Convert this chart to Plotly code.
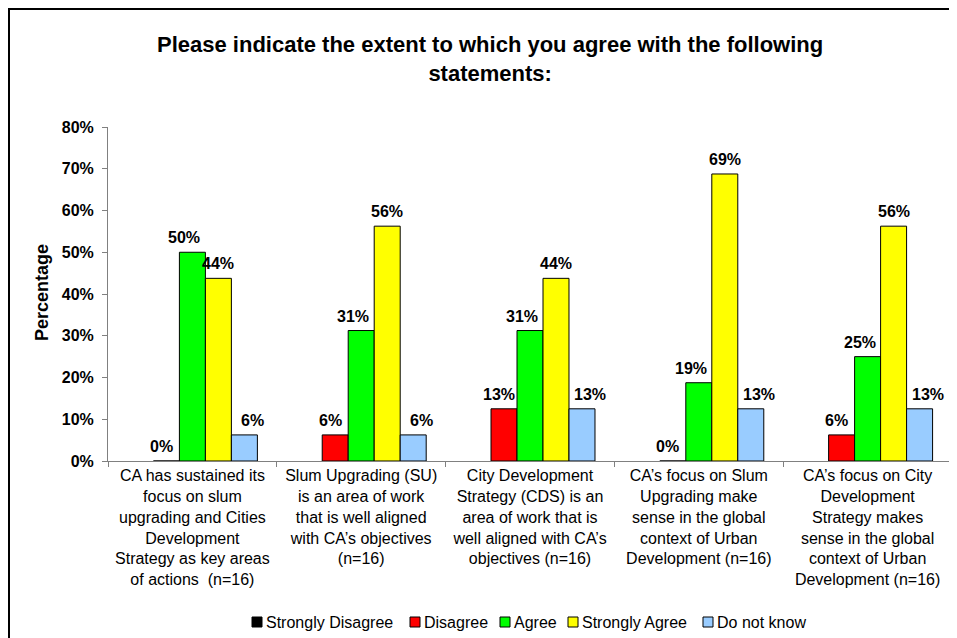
import plotly.graph_objects as go

# survey of 16 respondents, shares per statement
statements = [
    "CA has sustained its<br>focus on slum<br>upgrading and Cities<br>Development<br>Strategy as key areas<br>of actions  (n=16)",
    "Slum Upgrading (SU)<br>is an area of work<br>that is well aligned<br>with CA\u2019s objectives<br>(n=16)",
    "City Development<br>Strategy (CDS) is an<br>area of work that is<br>well aligned with CA\u2019s<br>objectives (n=16)",
    "CA\u2019s focus on Slum<br>Upgrading make<br>sense in the global<br>context of Urban<br>Development (n=16)",
    "CA\u2019s focus on City<br>Development<br>Strategy makes<br>sense in the global<br>context of Urban<br>Development (n=16)",
]

strongly_disagree = [None, None, None, None, None]
disagree = [0.0, 0.0625, 0.125, 0.0, 0.0625]
agree = [0.5, 0.3125, 0.3125, 0.1875, 0.25]
strongly_agree = [0.4375, 0.5625, 0.4375, 0.6875, 0.5625]
do_not_know = [0.0625, 0.0625, 0.125, 0.125, 0.125]

series_names = ["Strongly Disagree", "Disagree", "Agree", "Strongly Agree", "Do not know"]
series_values = [strongly_disagree, disagree, agree, strongly_agree, do_not_know]
series_colors = ["#000000", "#ff0000", "#00ff00", "#ffff00", "#99ccff"]

FONT = "Arial, Liberation Sans, sans-serif"

# figure geometry (page body adds 8px around the plot div)
W, H = 957, 638
ML, MR, MT, MB = 100, 13, 119, 185
PW, PH = W - ML - MR, H - MT - MB
BARGAP = 0.23
SLOT = PW / len(statements) * (1 - BARGAP) / len(series_names)
# labels in the original are nudged sideways a bit so they don't crowd
LABEL_NUDGE = [0, -5, -8, 0, 8]


def fx(px):
    return (px - ML) / PW


def fy(py):
    return (H - MB - py) / PH


fig = go.Figure()
annotations = []
for i, (name, vals, col) in enumerate(zip(series_names, series_values, series_colors)):
    fig.add_trace(go.Bar(
        name=name,
        x=statements,
        y=vals,
        marker=dict(color=col, line=dict(color="black", width=1)),
        showlegend=False,
    ))
    for cat, v in zip(statements, vals):
        if v is None:
            continue
        annotations.append(dict(
            x=cat, y=v, xref="x", yref="y",
            text=f"{int(v * 100 + 0.5)}%",
            xshift=(i - 2) * SLOT + LABEL_NUDGE[i], yshift=4,
            xanchor="center", yanchor="bottom", showarrow=False,
            font=dict(size=16, weight="bold"),
        ))

# hand-made legend: small outlined squares followed by the names
legend_x = [244, 402, 492, 560, 695]
legend_y = 614
shapes = [
    dict(type="rect", xref="paper", yref="paper",
         x0=fx(1), x1=fx(W + 20), y0=fy(H + 20), y1=fy(1),
         line=dict(color="black", width=2), layer="below"),
]
annotations += [
    dict(
        text="Please indicate the extent to which you agree with the following<br>statements:",
        xref="paper", yref="paper", x=fx(482), y=fy(51),
        xanchor="center", yanchor="middle", showarrow=False,
        font=dict(size=22, weight="bold"),
    ),
    dict(
        text="Percentage",
        xref="paper", yref="paper", x=fx(34), y=fy(285),
        xanchor="center", yanchor="middle", textangle=-90, showarrow=False,
        font=dict(size=18, weight="bold"),
    ),
]
for lx, name, col in zip(legend_x, series_names, series_colors):
    shapes.append(dict(
        type="rect", xref="paper", yref="paper",
        x0=fx(lx), x1=fx(lx + 10), y0=fy(legend_y + 5), y1=fy(legend_y - 5),
        fillcolor=col, line=dict(color="black", width=1),
    ))
    annotations.append(dict(
        text=name, xref="paper", yref="paper", x=fx(lx + 12), y=fy(legend_y),
        xanchor="left", yanchor="middle", showarrow=False,
        font=dict(size=16),
    ))

fig.update_layout(
    width=W,
    height=H,
    margin=dict(l=ML, r=MR, t=MT, b=MB),
    paper_bgcolor="white",
    plot_bgcolor="white",
    barmode="group",
    bargap=BARGAP,
    bargroupgap=0,
    showlegend=False,
    font=dict(family=FONT, color="black"),
    xaxis=dict(
        showline=True, linecolor="#808080", linewidth=1,
        ticks="outside", ticklen=5, tickcolor="#808080",
        tickson="boundaries",
        tickfont=dict(size=16),
        showgrid=False,
    ),
    yaxis=dict(
        range=[0, 0.8], dtick=0.1, tickformat=".0%",
        showline=True, linecolor="#808080", linewidth=1,
        ticks="outside", ticklen=5, tickcolor="#808080",
        tickfont=dict(size=16, weight="bold"),
        ticklabelstandoff=5,
        showgrid=False, zeroline=False,
    ),
    annotations=annotations,
    shapes=shapes,
)

fig.write_html("out.html")
